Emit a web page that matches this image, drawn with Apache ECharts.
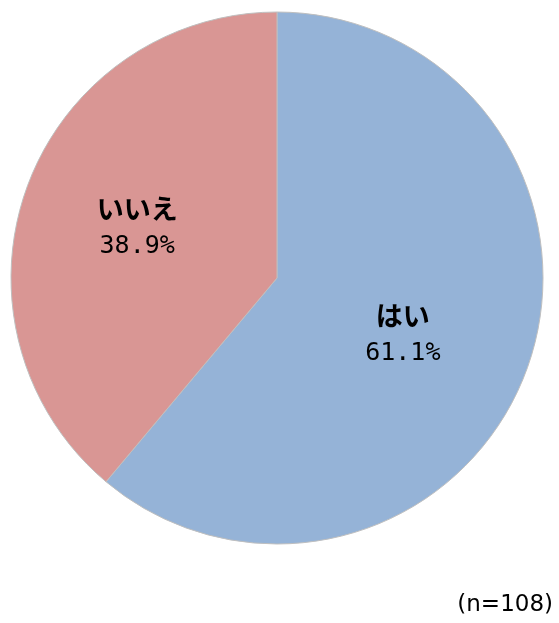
<!DOCTYPE html>
<html><head><meta charset="utf-8">
<script src="https://cdn.jsdelivr.net/npm/echarts@6/dist/echarts.min.js"></script>
<style>html,body{margin:0;padding:0;background:#fff}#c{width:559px;height:623px}</style>
</head><body><div id="c"></div>
<script>
const categories = ['はい', 'いいえ'];
const values = [66, 42];
const note = '(n=108)';
const colors = ['#95b3d7', '#d99694'];

const labelOffsets = [[-2, 10], [-12, -4]];

const chart = echarts.init(document.getElementById('c'));
chart.setOption({
  animation: false,
  title: {
    text: note, right: 1, bottom: 1,
    textStyle: {fontFamily: 'DejaVu Sans', fontSize: 23, fontWeight: 'normal', color: '#000'}
  },
  series: [{
    type: 'pie',
    center: [277, 278],
    radius: [0, 266],
    startAngle: 90,
    clockwise: true,
    data: categories.map((c, i) => ({
      name: c, value: values[i], itemStyle: {color: colors[i]},
      label: {offset: labelOffsets[i]}
    })),
    itemStyle: {borderColor: '#bfbfbf', borderWidth: 1},
    label: {
      position: 'inside',
      formatter: p => '{a|' + p.name + '}\n{b|' + p.percent.toFixed(1) + '%}',
      rich: {
        a: {fontFamily: 'Noto Sans CJK JP', fontSize: 27, fontWeight: 'bold', color: '#000', lineHeight: 38},
        b: {fontFamily: 'DejaVu Sans Mono', fontSize: 25, color: '#000', lineHeight: 38}
      }
    },
    labelLine: {show: false},
    emphasis: {disabled: true}
  }]
});
</script></body></html>
